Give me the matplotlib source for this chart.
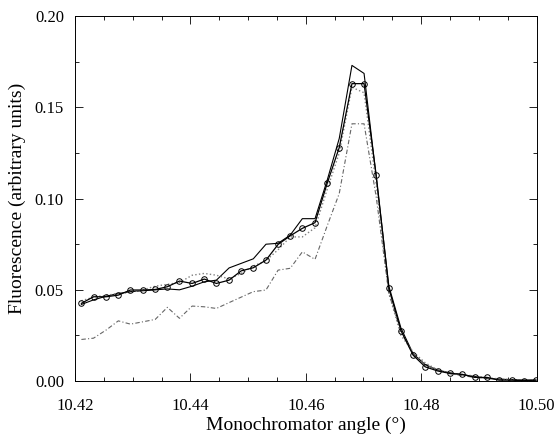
import numpy as np
import matplotlib
matplotlib.use('Agg')
from matplotlib import pyplot as plt
from matplotlib.ticker import MultipleLocator

plt.rcParams['font.family'] = ['Liberation Serif', 'DejaVu Serif']

# monochromator angle (deg), sampled about every 0.0021 deg
angle = [10.4211, 10.4232, 10.4254, 10.4275, 10.4296, 10.4318, 10.4339, 10.4360,
         10.4381, 10.4403, 10.4424, 10.4445, 10.4467, 10.4488, 10.4509, 10.4531,
         10.4552, 10.4573, 10.4594, 10.4616, 10.4637, 10.4658, 10.4680, 10.4701,
         10.4722, 10.4744, 10.4765, 10.4786, 10.4807, 10.4829, 10.4850, 10.4871,
         10.4893, 10.4914, 10.4935, 10.4957, 10.4978, 10.4999]

circles = [0.0426, 0.0462, 0.0462, 0.0471, 0.0499, 0.0499, 0.0502, 0.0517,
           0.0548, 0.0535, 0.0559, 0.0535, 0.0553, 0.0604, 0.0621, 0.0663,
           0.0749, 0.0796, 0.0837, 0.0868, 0.1083, 0.1280, 0.1630, 0.1630,
           0.1129, 0.0508, 0.0276, 0.0142, 0.0078, 0.0055, 0.0042, 0.0037,
           0.0020, 0.0020, 0.0005, 0.0005, 0.0002, 0.0005]

solid = [0.0420, 0.0445, 0.0465, 0.0480, 0.0490, 0.0495, 0.0500, 0.0505,
         0.0500, 0.0520, 0.0544, 0.0553, 0.0620, 0.0645, 0.0670, 0.0750,
         0.0755, 0.0800, 0.0890, 0.0890, 0.1100, 0.1330, 0.1730, 0.1686,
         0.1120, 0.0520, 0.0290, 0.0150, 0.0090, 0.0060, 0.0045, 0.0035,
         0.0025, 0.0015, 0.0010, 0.0008, 0.0006, 0.0005]

dotted = [0.0440, 0.0460, 0.0470, 0.0480, 0.0485, 0.0500, 0.0520, 0.0530,
          0.0540, 0.0580, 0.0590, 0.0580, 0.0560, 0.0590, 0.0630, 0.0660,
          0.0720, 0.0790, 0.0790, 0.0840, 0.1050, 0.1250, 0.1610, 0.1580,
          0.1080, 0.0480, 0.0250, 0.0160, 0.0100, 0.0060, 0.0045, 0.0035,
          0.0028, 0.0018, 0.0012, 0.0008, 0.0006, 0.0005]

dashed = [0.0228, 0.0235, 0.0280, 0.0330, 0.0312, 0.0325, 0.0338, 0.0404,
          0.0344, 0.0411, 0.0407, 0.0398, 0.0430, 0.0460, 0.0490, 0.0499,
          0.0608, 0.0618, 0.0708, 0.0667, 0.0850, 0.1028, 0.1410, 0.1410,
          0.1010, 0.0480, 0.0270, 0.0150, 0.0090, 0.0060, 0.0040, 0.0030,
          0.0020, 0.0015, 0.0010, 0.0008, 0.0006, 0.0005]

fig = plt.figure(figsize=(5.56, 4.36), dpi=100)
ax = fig.add_axes([0.135, 0.126, 0.830, 0.837])

ax.plot(angle, solid, '-', color='black', lw=0.8)
ax.plot(angle, dotted, ':', color='0.5', lw=1.0)
ax.plot(angle, dashed, '-.', color='0.4', lw=0.8, dashes=(4, 2, 1, 2))
ax.plot(angle, circles, '-', color='black', lw=0.9, marker='o', ms=4,
        mfc='none', mec='black', mew=0.7)

ax.set_xlim(10.42, 10.50)
ax.set_ylim(0.0, 0.20)
ax.xaxis.set_major_locator(MultipleLocator(0.02))
ax.xaxis.set_minor_locator(MultipleLocator(0.005))
ax.yaxis.set_major_locator(MultipleLocator(0.05))
ax.yaxis.set_minor_locator(MultipleLocator(0.025))
ax.xaxis.set_major_formatter(plt.FormatStrFormatter('%.2f'))
ax.yaxis.set_major_formatter(plt.FormatStrFormatter('%.2f'))
ax.tick_params(which='both', direction='in', top=True, right=True,
               labelsize=12, width=0.6)
ax.tick_params(which='major', length=6)
ax.tick_params(which='minor', length=3)
ax.tick_params(axis='x', which='major', pad=12)
ax.tick_params(axis='y', which='major', pad=8)
for s in ax.spines.values():
    s.set_linewidth(0.7)

ax.set_xlabel('Monochromator angle (°)', fontsize=14, labelpad=2)
ax.set_ylabel('Fluorescence (arbitrary units)', fontsize=14, labelpad=6)

fig.savefig('out.png', dpi=100)
